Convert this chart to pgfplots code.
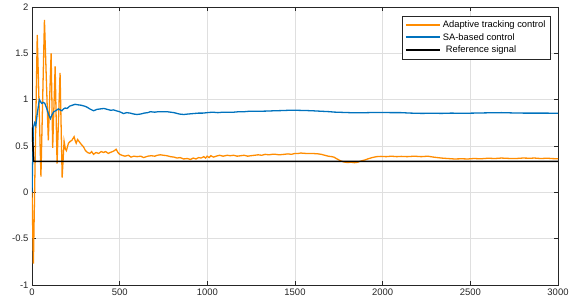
\documentclass[border=0pt]{standalone}
\usepackage{pgfplots}
\pgfplotsset{compat=1.18}
\usepackage{fontspec}
\setmainfont{Liberation Sans}
\definecolor{morange}{RGB}{255,140,0}
\definecolor{mblue}{RGB}{0,114,189}
\definecolor{axgray}{RGB}{38,38,38}
\definecolor{grd}{RGB}{223,223,223}
\begin{document}
\begin{tikzpicture}
\useasboundingbox (-32bp,-20bp) rectangle (539bp,285bp);
\begin{axis}[
  at={(0,0)}, anchor=south west,
  width=526bp, height=278bp, scale only axis,
  xmin=0, xmax=3000, ymin=-1, ymax=2,
  xtick={0,500,...,3000}, ytick={-1,-0.5,...,2},
  yticklabels={-1,-0.5,0,0.5,1,1.5,2},
  xticklabels={0,500,1000,1500,2000,2500,3000},
  scaled x ticks=false,
  grid=major, major grid style={grd, line width=0.6pt},
  axis line style={axgray, line width=0.7pt},
  tick style={axgray, line width=0.6pt},
  tick align=inside, major tick length=4bp,
  tick label style={font=\fontsize{9.5}{11}\selectfont, text=axgray},
  /pgf/number format/assume math mode=true,
  legend style={at={(0.985,0.968)}, anchor=north east, draw=axgray,
    font=\fontsize{9.4}{11}\selectfont, row sep=0.5bp, inner sep=2.5bp, cells={anchor=west}},
  legend image code/.code={\draw[#1, line width=2pt] (0bp,0bp) -- (34bp,0bp);},
]
\addplot[morange, line width=1.3pt] coordinates {
(0,0)(8,-0.77)(30,1.70)(51,0.17)(71,1.86)(93,0.56)(109,1.50)(118,0.48)(132,1.36)(143,0.31)(160,1.29)(172,0.16)(183,0.55)(190,0.47)(196,0.45)(208,0.53)(218,0.55)(227,0.56)(240,0.60)(246,0.56)(252,0.53)(260,0.57)(268,0.55)(280,0.52)(294,0.49)(305,0.45)(317,0.43)(330,0.42)(340,0.44)(351,0.41)(365,0.43)(380,0.42)(395,0.44)(408,0.43)(420,0.44)(435,0.42)(446,0.43)(460,0.44)(470,0.45)(480,0.465)(490,0.43)(500,0.41)(513,0.40)(530,0.39)(550,0.40)(565,0.38)(580,0.39)(600,0.385)(620,0.39)(637,0.375)(660,0.39)(680,0.395)(700,0.39)(715,0.40)(732,0.405)(750,0.40)(770,0.395)(790,0.385)(810,0.38)(827,0.37)(845,0.375)(865,0.36)(885,0.365)(904,0.355)(920,0.37)(935,0.36)(950,0.375)(965,0.37)(980,0.385)(990,0.37)(999,0.39)(1010,0.375)(1020,0.395)(1035,0.38)(1050,0.39)(1070,0.40)(1090,0.39)(1113,0.40)(1130,0.395)(1150,0.40)(1170,0.39)(1190,0.395)(1210,0.40)(1230,0.39)(1247,0.395)(1270,0.40)(1290,0.405)(1310,0.40)(1330,0.41)(1350,0.405)(1370,0.41)(1390,0.41)(1410,0.405)(1438,0.41)(1460,0.415)(1480,0.41)(1500,0.42)(1520,0.42)(1533,0.424)(1560,0.42)(1590,0.42)(1610,0.418)(1628,0.416)(1650,0.41)(1670,0.40)(1690,0.39)(1710,0.385)(1722,0.38)(1740,0.36)(1760,0.34)(1780,0.327)(1800,0.322)(1820,0.325)(1840,0.32)(1857,0.325)(1880,0.34)(1900,0.35)(1914,0.36)(1940,0.375)(1965,0.385)(1990,0.388)(2020,0.385)(2050,0.39)(2080,0.385)(2105,0.388)(2140,0.385)(2180,0.39)(2220,0.385)(2257,0.39)(2290,0.38)(2334,0.37)(2370,0.365)(2410,0.36)(2450,0.362)(2486,0.36)(2520,0.365)(2560,0.362)(2600,0.368)(2640,0.365)(2677,0.37)(2720,0.366)(2760,0.365)(2800,0.37)(2840,0.368)(2866,0.37)(2900,0.365)(2940,0.368)(2970,0.364)(3000,0.362)
};
\addlegendentry{Adaptive tracking control}
\addplot[mblue, line width=1.3pt] coordinates {
(0,0)(8,0.7)(15,0.75)(22,0.72)(30,0.85)(42,1.0)(55,0.96)(65,0.97)(73,0.96)(85,0.9)(95,0.84)(105,0.795)(115,0.84)(124,0.87)(135,0.88)(150,0.90)(160,0.89)(170,0.88)(180,0.9)(189,0.91)(200,0.905)(215,0.93)(230,0.94)(246,0.95)(260,0.945)(280,0.94)(300,0.93)(313,0.92)(330,0.90)(351,0.88)(370,0.895)(389,0.90)(410,0.905)(430,0.895)(450,0.885)(465,0.89)(480,0.88)(500,0.87)(522,0.85)(540,0.86)(560,0.855)(580,0.845)(599,0.84)(620,0.845)(640,0.855)(660,0.86)(675,0.87)(700,0.865)(720,0.87)(745,0.87)(770,0.87)(790,0.865)(810,0.86)(840,0.845)(865,0.84)(890,0.845)(920,0.85)(950,0.855)(975,0.855)(999,0.86)(1030,0.865)(1060,0.86)(1090,0.865)(1120,0.865)(1151,0.865)(1180,0.87)(1210,0.87)(1240,0.875)(1270,0.875)(1300,0.875)(1342,0.877)(1380,0.88)(1420,0.882)(1460,0.885)(1514,0.885)(1560,0.883)(1600,0.88)(1650,0.875)(1700,0.87)(1722,0.866)(1780,0.862)(1840,0.858)(1914,0.86)(1960,0.862)(2000,0.862)(2050,0.86)(2105,0.86)(2160,0.855)(2220,0.852)(2280,0.853)(2340,0.852)(2391,0.855)(2450,0.853)(2520,0.855)(2600,0.858)(2677,0.86)(2740,0.857)(2800,0.855)(2866,0.855)(2930,0.855)(3000,0.853)
};
\addlegendentry{SA-based control}
\addplot[black, line width=1.5pt] coordinates {
(0,0.7)(10,0.3333)(3000,0.3333)
};
\addlegendentry{\hspace{3bp}Reference signal}
\end{axis}
\end{tikzpicture}
\end{document}
